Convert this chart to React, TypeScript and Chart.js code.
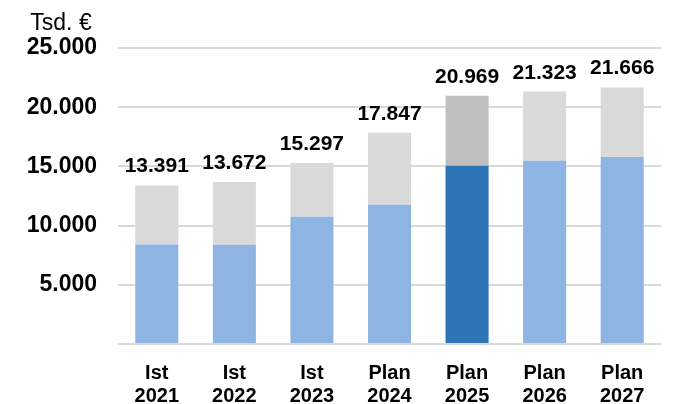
import React, { useEffect, useRef } from "react";
import { Chart, registerables } from "chart.js";

Chart.register(...registerables);

const categories: string[][] = [
  ["Ist", "2021"],
  ["Ist", "2022"],
  ["Ist", "2023"],
  ["Plan", "2024"],
  ["Plan", "2025"],
  ["Plan", "2026"],
  ["Plan", "2027"],
];
const baseValues: number[] = [8410, 8390, 10750, 11770, 15060, 15480, 15790];
const totals: number[] = [13391, 13672, 15297, 17847, 20969, 21323, 21666];
const topValues: number[] = totals.map((t, i) => t - baseValues[i]);
const yTicks: number[] = [0, 5000, 10000, 15000, 20000, 25000];

const baseColors = ["#8DB4E2", "#8DB4E2", "#8DB4E2", "#8DB4E2", "#2E75B6", "#8DB4E2", "#8DB4E2"];
const topColors = ["#D9D9D9", "#D9D9D9", "#D9D9D9", "#D9D9D9", "#BFBFBF", "#D9D9D9", "#D9D9D9"];

const fmt = (v: number) => v.toLocaleString("de-DE");
const FONT = "'Liberation Sans', Arial, sans-serif";

export default function App() {
  const ref = useRef<HTMLCanvasElement>(null);
  useEffect(() => {
    document.body.style.margin = "0";
    const ctx = ref.current!;
    const labelPlugin = {
      id: "labels",
      afterDatasetsDraw(chart: any) {
        const c = chart.ctx;
        const meta = chart.getDatasetMeta(1);
        c.save();
        c.fillStyle = "#000";
        c.font = `bold 21px ${FONT}`;
        c.textAlign = "center";
        c.textBaseline = "alphabetic";
        meta.data.forEach((el: any, i: number) => {
          c.fillText(fmt(totals[i]), el.x, el.y - 13);
        });
        c.font = `23px ${FONT}`;
        c.fillText("Tsd. €", 61, 30);
        c.restore();
      },
    };
    const chart = new Chart(ctx, {
      type: "bar",
      data: {
        labels: categories,
        datasets: [
          { data: baseValues, backgroundColor: baseColors, borderWidth: 0 },
          { data: topValues, backgroundColor: topColors, borderWidth: 0 },
        ],
      },
      options: {
        animation: false,
        responsive: false,
        maintainAspectRatio: false,
        layout: { padding: { top: 48, right: 26, left: 0, bottom: 0 } },
        plugins: { legend: { display: false }, tooltip: { enabled: false }, title: { display: false } },
        datasets: { bar: { barPercentage: 1, categoryPercentage: 0.555 } },
        scales: {
          x: {
            stacked: true,
            grid: { display: false },
            border: { display: false },
            ticks: {
              color: "#000",
              font: { family: FONT, size: 20, weight: "bold", lineHeight: 1.15 },
              padding: 10,
              maxRotation: 0,
            },
            afterFit: (s: any) => {
              s.height = 60;
            },
          },
          y: {
            stacked: true,
            min: 0,
            max: 25000,
            afterBuildTicks: (s: any) => {
              s.ticks = yTicks.map((v) => ({ value: v }));
            },
            grid: { color: "#D9D9D9", lineWidth: 2, drawTicks: false },
            border: { display: false },
            ticks: {
              color: "#000",
              font: { family: FONT, size: 23, weight: "bold" },
              padding: 21,
              callback: (v: any) => (v === 0 ? "" : fmt(Number(v))),
            },
            afterFit: (s: any) => {
              s.width = 118;
            },
          },
        },
      },
      plugins: [labelPlugin],
    });
    return () => chart.destroy();
  }, []);
  return <canvas ref={ref} width={687} height={404} style={{ display: "block" }} />;
}
